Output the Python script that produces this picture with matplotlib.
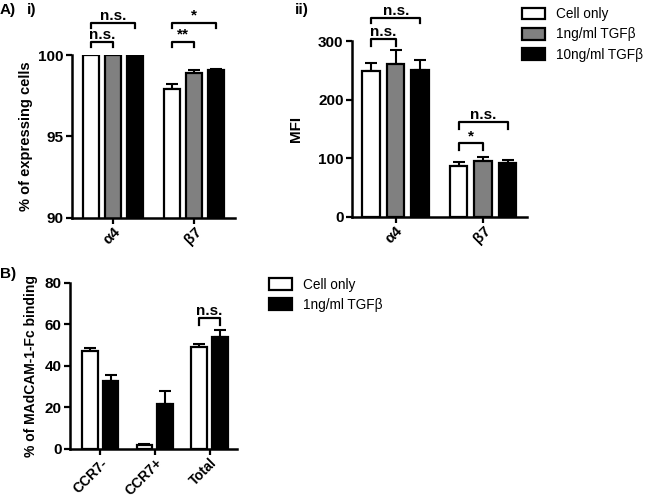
import matplotlib
matplotlib.use("Agg")
import matplotlib.pyplot as plt
import matplotlib.patches as mpatches
import numpy as np

plt.rcParams['font.family'] = ['Liberation Sans', 'DejaVu Sans']

# panel A i) % of expressing cells
markers = ['α4', 'β7']
conds_a = ['Cell only', '1ng/ml TGFβ', '10ng/ml TGFβ']
pct_mean = [[99.98, 97.9], [99.98, 98.87], [99.97, 99.05]]
pct_err = [[0.0, 0.35], [0.02, 0.18], [0.02, 0.12]]

# panel A ii) MFI
mfi_mean = [[249, 87], [261, 96], [251, 92]]
mfi_err = [[14, 7], [23, 7], [17, 5]]

# panel B) % of MAdCAM-1-Fc binding
subsets = ['CCR7-', 'CCR7+', 'Total']
conds_b = ['Cell only', '1ng/ml TGFβ']
bind_mean = [[47.3, 2.0, 49.0], [32.8, 21.5, 53.8]]
bind_err = [[1.2, 0.4, 1.5], [2.9, 6.5, 3.3]]

colors = ['white', '#808080', 'black']
LW = 1.6
FS = 11


def style_axis(ax, xfs=FS):
    for s in ['top', 'right']:
        ax.spines[s].set_visible(False)
    for s in ['left', 'bottom']:
        ax.spines[s].set_linewidth(1.8)
    ax.tick_params(width=1.6, length=4, labelsize=FS, pad=2)
    ax.tick_params(axis='x', labelsize=xfs, pad=1)
    for lab in ax.get_yticklabels() + ax.get_xticklabels():
        lab.set_fontweight('bold')


def bars(ax, means, errs, cols, width, step):
    n = len(means)
    x = np.arange(len(means[0]))
    for i in range(n):
        off = (i - (n - 1) / 2) * step
        ax.bar(x + off, means[i], width, color=cols[i], edgecolor='black',
               linewidth=LW, zorder=2)
        ax.errorbar(x + off, means[i], yerr=[np.zeros(len(errs[i])), errs[i]],
                    fmt='none', ecolor='black', elinewidth=1.5, capsize=4,
                    capthick=1.5, zorder=1)
    return x


def bracket(ax, x1, x2, y, h, text, fs=11):
    ax.plot([x1, x1, x2, x2], [y - h, y, y, y - h], color='black', lw=1.6,
            clip_on=False)
    ax.text((x1 + x2) / 2, y, text, ha='center', va='bottom', fontsize=fs,
            fontweight='bold')


fig = plt.figure(figsize=(6.5, 4.96), dpi=100)

# ---- A i)
ax1 = fig.add_axes([0.1108, 0.5605, 0.2508, 0.3286])
x = bars(ax1, pct_mean, pct_err, colors, 0.2, 0.27)
ax1.set_xlim(-0.5, 1.5)
ax1.set_ylim(90, 100)
ax1.set_yticks([90, 95, 100])
ax1.set_xticks(x)
ax1.set_xticklabels(markers, rotation=45, ha='right', rotation_mode='anchor')
ax1.set_ylabel('% of expressing cells', fontsize=10.5, fontweight='bold', labelpad=4)
style_axis(ax1)
bracket(ax1, -0.27, 0.27, 101.97, 0.3, 'n.s.')
bracket(ax1, -0.27, 0.0, 100.8, 0.3, 'n.s.')
bracket(ax1, 0.73, 1.27, 101.97, 0.3, '*')
bracket(ax1, 0.73, 1.0, 100.8, 0.3, '**')

# ---- A ii)
ax2 = fig.add_axes([0.5415, 0.5625, 0.2692, 0.3548])
x = bars(ax2, mfi_mean, mfi_err, colors, 0.2, 0.28)
ax2.set_xlim(-0.5, 1.5)
ax2.set_ylim(0, 300)
ax2.set_yticks([0, 100, 200, 300])
ax2.set_xticks(x)
ax2.set_xticklabels(markers, rotation=45, ha='right', rotation_mode='anchor')
ax2.set_ylabel('MFI', fontsize=11, fontweight='bold', labelpad=11)
style_axis(ax2)
bracket(ax2, -0.28, 0.28, 339, 9, 'n.s.')
bracket(ax2, -0.28, 0.0, 303, 12, 'n.s.')
bracket(ax2, 0.72, 1.28, 162, 12, 'n.s.')
bracket(ax2, 0.72, 1.0, 126, 12, '*')

# ---- B)
ax3 = fig.add_axes([0.1077, 0.0948, 0.2569, 0.3347])
x = bars(ax3, bind_mean, bind_err, ['white', 'black'], 0.29, 0.38)
ax3.set_xlim(-0.55, 2.5)
ax3.set_ylim(0, 80)
ax3.set_yticks([0, 20, 40, 60, 80])
ax3.set_xticks(x)
ax3.set_xticklabels(subsets, rotation=45, ha='right', rotation_mode='anchor')
ax3.set_ylabel('% of MAdCAM-1-Fc binding', fontsize=10, fontweight='bold', labelpad=5)
style_axis(ax3, xfs=10)
bracket(ax3, 1.81, 2.19, 63, 3.3, 'n.s.')

# legends
h_a = [mpatches.Patch(facecolor=c, edgecolor='black', linewidth=LW) for c in colors]
fig.legend(h_a, conds_a, loc='upper left', bbox_to_anchor=(0.784, 1.01),
           frameon=False, fontsize=9.8, handlelength=1.7, handleheight=0.95,
           labelspacing=0.45, handletextpad=0.8)
h_b = [mpatches.Patch(facecolor=c, edgecolor='black', linewidth=LW)
       for c in ['white', 'black']]
fig.legend(h_b, conds_b, loc='upper left', bbox_to_anchor=(0.395, 0.465),
           frameon=False, fontsize=9.8, handlelength=1.7, handleheight=0.95,
           labelspacing=0.45, handletextpad=0.8)

# panel labels
fig.text(0.0, 0.993, 'A)', fontsize=11, fontweight='bold', va='top')
fig.text(0.042, 0.993, 'i)', fontsize=11, fontweight='bold', va='top')
fig.text(0.453, 0.993, 'ii)', fontsize=11, fontweight='bold', va='top')
fig.text(0.0, 0.462, 'B)', fontsize=11, fontweight='bold', va='top')

fig.savefig('out.png', dpi=100)
